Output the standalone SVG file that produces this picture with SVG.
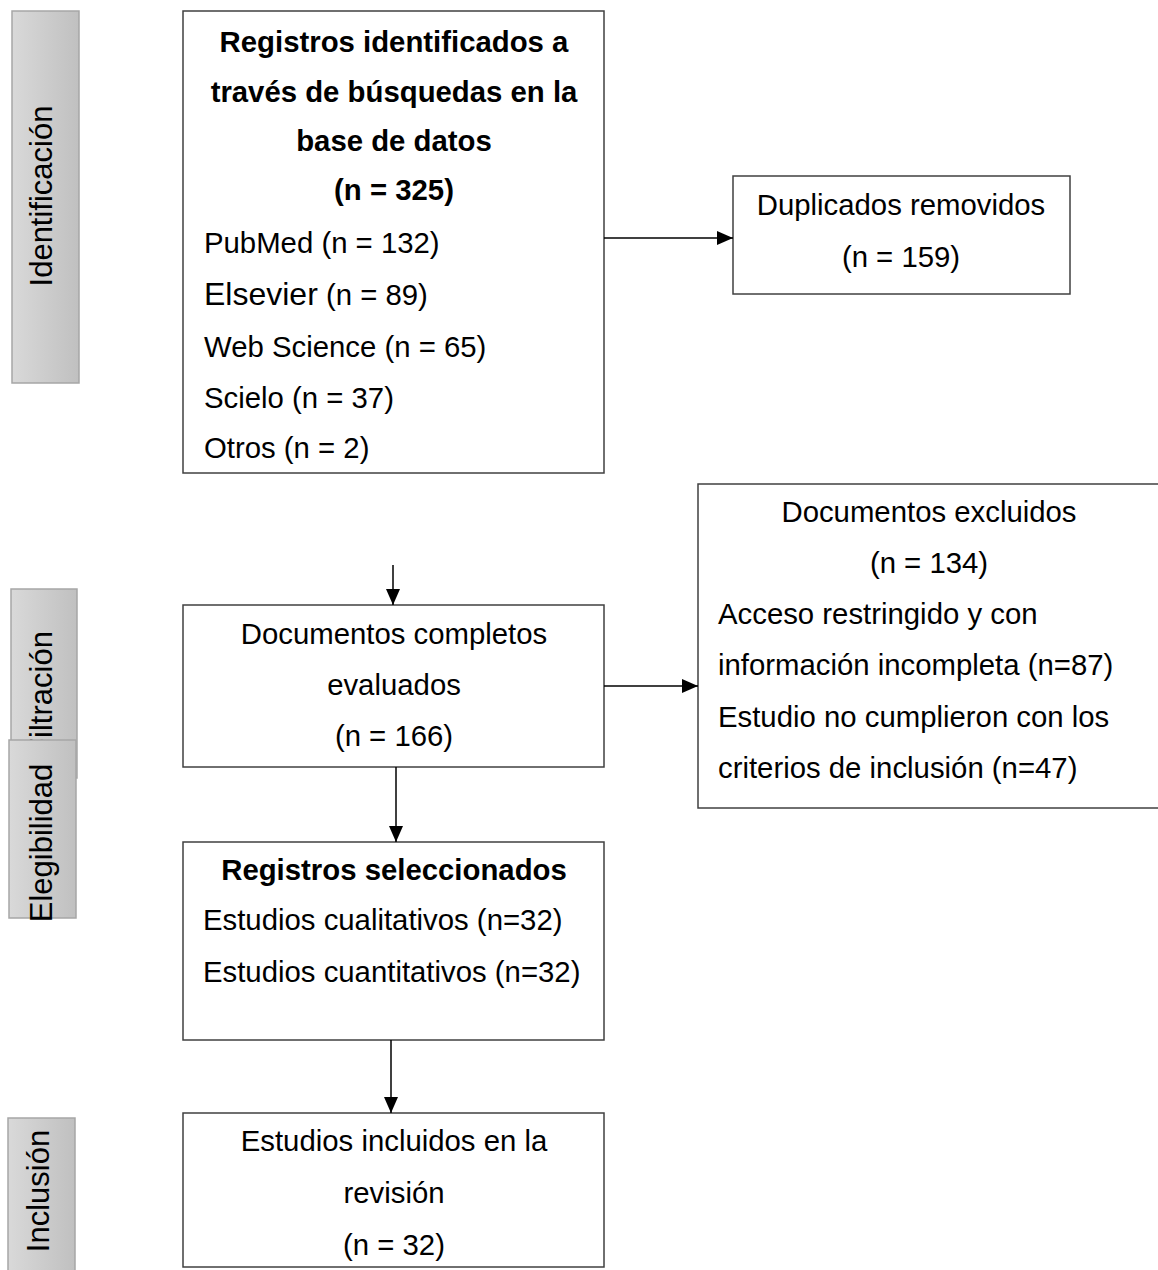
<svg xmlns="http://www.w3.org/2000/svg" width="1158" height="1270" viewBox="0 0 1158 1270">
<defs>
<linearGradient id="gray" x1="0" y1="0" x2="1" y2="0">
<stop offset="0" stop-color="#d9d9d9"/>
<stop offset="1" stop-color="#c0c0c0"/>
</linearGradient>
<marker id="arr" markerWidth="16" markerHeight="14" refX="16" refY="7" orient="auto" markerUnits="userSpaceOnUse">
<path d="M0,0 L16,7 L0,14 Z" fill="#000"/>
</marker>
</defs>
<style>
text{font-family:"Liberation Sans",Arial,sans-serif;font-size:29.33px;fill:#000}
.b{font-weight:bold}
.c{text-anchor:middle}
.side rect{fill:url(#gray);stroke:#a6a6a6;stroke-width:1.5}
.side text{font-size:31px;text-anchor:middle}
.box{fill:#fff;stroke:#404040;stroke-width:1.5}
.conn line{stroke:#000;stroke-width:1.5;marker-end:url(#arr)}
</style>
<rect width="1158" height="1270" fill="#fff"/>

<g id="phase-identificacion" class="side">
<rect x="12" y="11" width="67" height="372"/>
<text transform="translate(52,196) rotate(-90)">Identificación</text>
</g>
<g id="phase-filtracion" class="side">
<rect x="11" y="589" width="66" height="189"/>
<text transform="translate(52,694) rotate(-90)">Filtración</text>
</g>
<g id="phase-elegibilidad" class="side">
<rect x="9" y="740" width="67" height="178"/>
<text transform="translate(52,843) rotate(-90)">Elegibilidad</text>
</g>
<g id="phase-inclusion" class="side">
<rect x="8" y="1118" width="67" height="160"/>
<text transform="translate(49,1191) rotate(-90)">Inclusión</text>
</g>

<g id="registros">
<rect class="box" x="183" y="11" width="421" height="462"/>
<text class="b c" x="394" y="52">Registros identificados a</text>
<text class="b c" x="394" y="102">través de búsquedas en la</text>
<text class="b c" x="394" y="151">base de datos</text>
<text class="b c" x="394" y="200">(n = 325)</text>
<text x="204" y="253">PubMed (n = 132)</text>
<text x="204" y="305"><tspan style="font-size:32px">Elsevier</tspan> (n = 89)</text>
<text x="204" y="357">Web Science (n = 65)</text>
<text x="204" y="408">Scielo (n = 37)</text>
<text x="204" y="458">Otros (n = 2)</text>
</g>

<g id="duplicados">
<rect class="box" x="733" y="176" width="337" height="118"/>
<text class="c" x="901" y="215">Duplicados removidos</text>
<text class="c" x="901" y="267">(n = 159)</text>
</g>

<g id="completos">
<rect class="box" x="183" y="605" width="421" height="162"/>
<text class="c" x="394" y="644">Documentos completos</text>
<text class="c" x="394" y="695">evaluados</text>
<text class="c" x="394" y="746">(n = 166)</text>
</g>

<g id="excluidos">
<rect class="box" x="698" y="484" width="470" height="324"/>
<text class="c" x="929" y="522">Documentos excluidos</text>
<text class="c" x="929" y="573">(n = 134)</text>
<text x="718" y="624">Acceso restringido y con</text>
<text x="718" y="675">información incompleta (n=87)</text>
<text x="718" y="727">Estudio no cumplieron con los</text>
<text x="718" y="778">criterios de inclusión (n=47)</text>
</g>

<g id="seleccionados">
<rect class="box" x="183" y="842" width="421" height="198"/>
<text class="b c" x="394" y="880">Registros seleccionados</text>
<text x="203" y="930">Estudios cualitativos (n=32)</text>
<text x="203" y="982">Estudios cuantitativos (n=32)</text>
</g>

<g id="incluidos">
<rect class="box" x="183" y="1113" width="421" height="154"/>
<text class="c" x="394" y="1151">Estudios incluidos en la</text>
<text class="c" x="394" y="1203">revisión</text>
<text class="c" x="394" y="1255">(n = 32)</text>
</g>

<g id="connectors" class="conn">
<line x1="604" y1="238" x2="733" y2="238"/>
<line x1="393" y1="565" x2="393" y2="605"/>
<line x1="604" y1="686" x2="698" y2="686"/>
<line x1="396" y1="767" x2="396" y2="842"/>
<line x1="391" y1="1040" x2="391" y2="1113"/>
</g>
</svg>
